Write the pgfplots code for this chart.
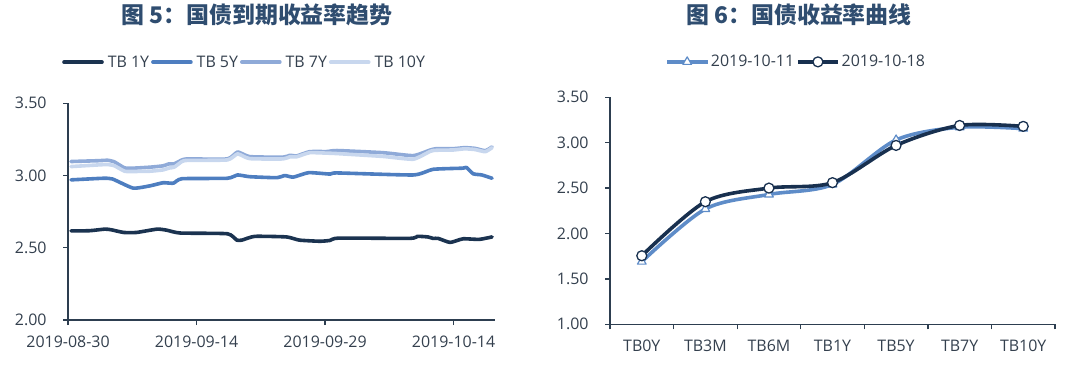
\documentclass[border=0pt]{standalone}
\usepackage{fontspec}
\setmainfont{Open Sans}
\newfontfamily\cjk{Noto Sans CJK SC}
\usepackage{pgfplots}
\pgfplotsset{compat=1.18}
\definecolor{titlec}{HTML}{2F4D70}
\definecolor{tickc}{HTML}{34404E}
\definecolor{axc}{HTML}{2D3E50}
\definecolor{cA}{HTML}{1B3350}
\definecolor{cB}{HTML}{4E7EC0}
\definecolor{cC}{HTML}{8FAAD8}
\definecolor{cD}{HTML}{C8D7EE}
\definecolor{cR1}{HTML}{5E8CC8}
\definecolor{cR2}{HTML}{18304F}
\pgfplotsset{
  common/.style={
    scale only axis, anchor=south west,
    axis lines=left, axis line style={-, draw=axc, line width=1.3bp},
    tick align=outside, major tick length=5bp,
    tick style={draw=axc, line width=1.3bp},
    tick label style={font=\fontsize{16}{19}\selectfont, text=tickc},
    /pgf/number format/assume math mode=true,
    yticklabel style={xshift=-13bp, /pgf/number format/.cd, fixed, fixed zerofill, precision=2},
    xticklabel style={yshift=-7bp},
    enlargelimits=false, clip=false,
    legend style={draw=none, fill=none, font=\fontsize{16}{19}\selectfont, text=tickc, inner sep=0pt, cells={anchor=west}},
  }
}
\begin{document}
\begin{tikzpicture}
\path[use as bounding box] (0bp,0bp) rectangle (1080bp,372bp);
\node[font=\cjk\bfseries\fontsize{23}{26}\selectfont, text=titlec] at (257bp,357bp) {图 5：国债到期收益率趋势};
\node[font=\cjk\bfseries\fontsize{23}{26}\selectfont, text=titlec] at (799bp,357bp) {图 6：国债收益率曲线};

\begin{axis}[common, at={(68bp,52bp)}, width=427bp, height=216.7bp,
  xmin=0, xmax=49.84, ymin=2, ymax=3.5,
  xtick={0,15,30,45}, xticklabels={2019-08-30,2019-09-14,2019-09-29,2019-10-14},
  ytick={2,2.5,3,3.5},
  legend columns=4,
  legend style={at={(-0.014,1.19)}, anchor=west},
  legend image code/.code={\draw[#1] (0bp,0bp) -- (38bp,0bp);},
  every axis plot/.append style={line width=3.6bp, line join=round, line cap=round, smooth, tension=0.3}]
\addplot[cA] coordinates {(0.35,2.617) (2.5,2.618) (4.3,2.629) (5.0,2.625) (6.5,2.606) (8.0,2.606) (10.4,2.629) (11.5,2.622) (13.1,2.602) (18.6,2.597) (19.7,2.553) (20.3,2.553) (21.8,2.579) (25.5,2.575) (27.0,2.553) (29.4,2.545) (30.6,2.551) (31.6,2.567) (39.9,2.565) (40.8,2.579) (42.0,2.575) (42.6,2.565) (43.2,2.565) (44.6,2.537) (46.1,2.562) (48.0,2.558) (49.5,2.575)};
\addlegendentry{\hspace{2bp}TB 1Y\hspace{19bp}}
\addplot[cB] coordinates {(0.35,2.970) (4.1,2.981) (5.2,2.976) (7.6,2.913) (9.6,2.929) (11.1,2.95) (12.3,2.947) (13.3,2.978) (18.6,2.981) (19.8,3.004) (21.2,2.992) (24.4,2.985) (25.3,3.0) (26.3,2.989) (28.1,3.02) (30.6,3.01) (31.4,3.018) (40.3,3.004) (42.6,3.043) (46.1,3.051) (46.5,3.056) (47.3,3.012) (48.3,3.004) (49.5,2.981)};
\addlegendentry{\hspace{2bp}TB 5Y\hspace{19bp}}
\addplot[cC] coordinates {(0.35,3.097) (3.7,3.103) (4.6,3.106) (5.4,3.095) (6.6,3.053) (7.6,3.051) (9.6,3.058) (11.1,3.067) (11.8,3.081) (12.4,3.081) (13.3,3.108) (14.0,3.115) (18.6,3.115) (19.8,3.163) (21.2,3.131) (25.1,3.127) (25.9,3.14) (26.7,3.136) (28.2,3.165) (30.2,3.166) (31.4,3.173) (36.8,3.158) (40.3,3.138) (42.3,3.177) (43.0,3.186) (45.0,3.186) (46.3,3.193) (47.5,3.188) (48.7,3.172) (49.5,3.198)};
\addlegendentry{\hspace{2bp}TB 7Y\hspace{19bp}}
\addplot[cD] coordinates {(0.35,3.062) (3.7,3.074) (4.6,3.076) (5.4,3.068) (6.6,3.03) (7.6,3.028) (9.6,3.03) (11.1,3.039) (11.8,3.052) (12.4,3.058) (13.3,3.097) (14.0,3.105) (18.6,3.108) (19.8,3.15) (21.2,3.117) (25.1,3.115) (25.9,3.13) (26.7,3.13) (28.2,3.158) (30.2,3.155) (31.4,3.152) (36.8,3.132) (40.3,3.113) (42.3,3.168) (43.0,3.175) (45.0,3.177) (46.3,3.185) (47.5,3.18) (48.7,3.165) (49.5,3.193)};
\addlegendentry{\hspace{2bp}TB 10Y}
\end{axis}

\begin{axis}[common, at={(610bp,47.7bp)}, width=445bp, height=227bp,
  xmin=-0.5, xmax=6.5, ymin=1, ymax=3.5,
  xtick={0,...,6}, xticklabels={TB0Y,TB3M,TB6M,TB1Y,TB5Y,TB7Y,TB10Y},
  major x tick style={draw=none},
  minor xtick={-0.5,0.5,...,6.5}, minor tick length=5bp,
  minor tick style={draw=axc, line width=1.3bp},
  ytick={1,1.5,...,3.5},
  legend columns=2,
  legend style={at={(0.124,1.156)}, anchor=west},
  legend image code/.code={\draw[#1, mark repeat=2, mark phase=2] plot coordinates {(0bp,0bp) (20bp,0bp) (40bp,0bp)};},
  every axis plot/.append style={line width=3.6bp, line join=round, smooth}]
\addplot[cR1, mark=triangle*, mark size=5bp, mark options={fill=white, draw=cR1, line width=1.2bp}] coordinates {(0,1.69) (1,2.27) (2,2.43) (3,2.54) (4,3.03) (5,3.17) (6,3.155)};
\addlegendentry{2019-10-11\hspace{29bp}}
\addplot[cR2, mark=*, mark size=5bp, mark options={fill=white, draw=cR2, line width=1.3bp}] coordinates {(0,1.755) (1,2.35) (2,2.50) (3,2.56) (4,2.97) (5,3.19) (6,3.18)};
\addlegendentry{2019-10-18}
\end{axis}
\end{tikzpicture}
\end{document}
